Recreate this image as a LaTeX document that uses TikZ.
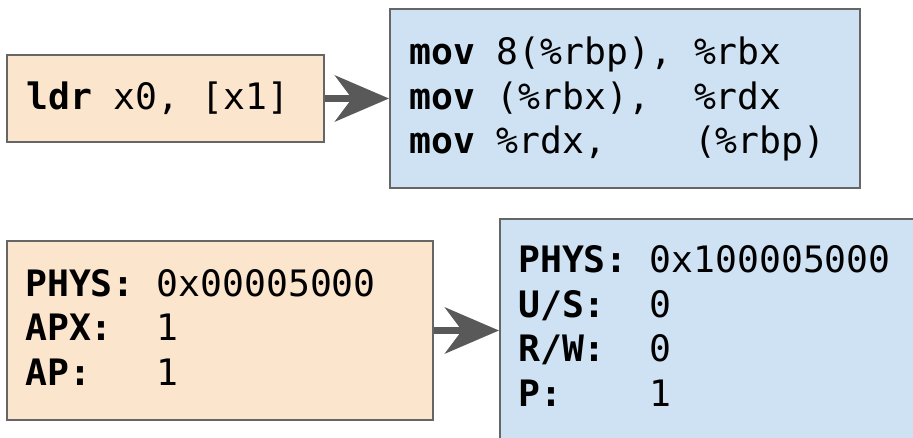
\documentclass[tikz,border=0pt]{standalone}
\usepackage{fontspec}
\setmonofont{DejaVu Sans Mono}
\usetikzlibrary{arrows.meta}
\definecolor{boxorange}{HTML}{FCE5CD}
\definecolor{boxblue}{HTML}{CFE2F3}
\definecolor{edgegray}{HTML}{666666}
\definecolor{arrowgray}{HTML}{595959}
\tikzset{
  boxshape/.style={draw=edgegray, line width=2pt, rectangle, inner sep=0pt, anchor=north west},
  obox/.style={boxshape, fill=boxorange},
  bbox/.style={boxshape, fill=boxblue},
  codetext/.style={inner sep=0pt, anchor=west, align=left, text=black,
    font=\ttfamily\fontsize{36.4}{44.5}\selectfont},
  bigarrow/.style={draw=arrowgray, line width=7.5pt,
    -{Stealth[length=54pt, width=46pt, inset=17pt]}}
}
\begin{document}
\begin{tikzpicture}[x=1pt, y=-1pt]
\useasboundingbox (0,0) rectangle (913,438);
\clip (0,0) rectangle (913,438);
% boxes
\node[obox, minimum width=317pt, minimum height=87pt] (A) at (6,54) {};
\node[bbox, minimum width=470pt, minimum height=179pt] (B) at (389,8) {};
\node[obox, minimum width=426pt, minimum height=179pt] (C) at (6,240) {};
\node[bbox, minimum width=430pt, minimum height=240pt] (D) at (499,218) {};
% texts
\node[codetext] (tA) at (26,98) {\textbf{ldr} x0, [x1]};
\node[codetext] (tB) at (409,99) {\textbf{mov} 8(\%rbp), \%rbx\\
\textbf{mov} (\%rbx),~~\%rdx\\
\textbf{mov} \%rdx,~~~~(\%rbp)};
\node[codetext] (tC) at (25,327) {\textbf{PHYS:} 0x00005000\\
\textbf{APX:}~~1\\
\textbf{AP:}~~~1};
\node[codetext] (tD) at (518,326) {\textbf{PHYS:} 0x100005000\\
\textbf{U/S:}~~0\\
\textbf{R/W:}~~0\\
\textbf{P:}~~~~1};
% arrows
\draw[bigarrow] (A.east) -- (B.west);
\draw[bigarrow] (C.east) -- (C.east -| D.west);
\end{tikzpicture}
\end{document}
